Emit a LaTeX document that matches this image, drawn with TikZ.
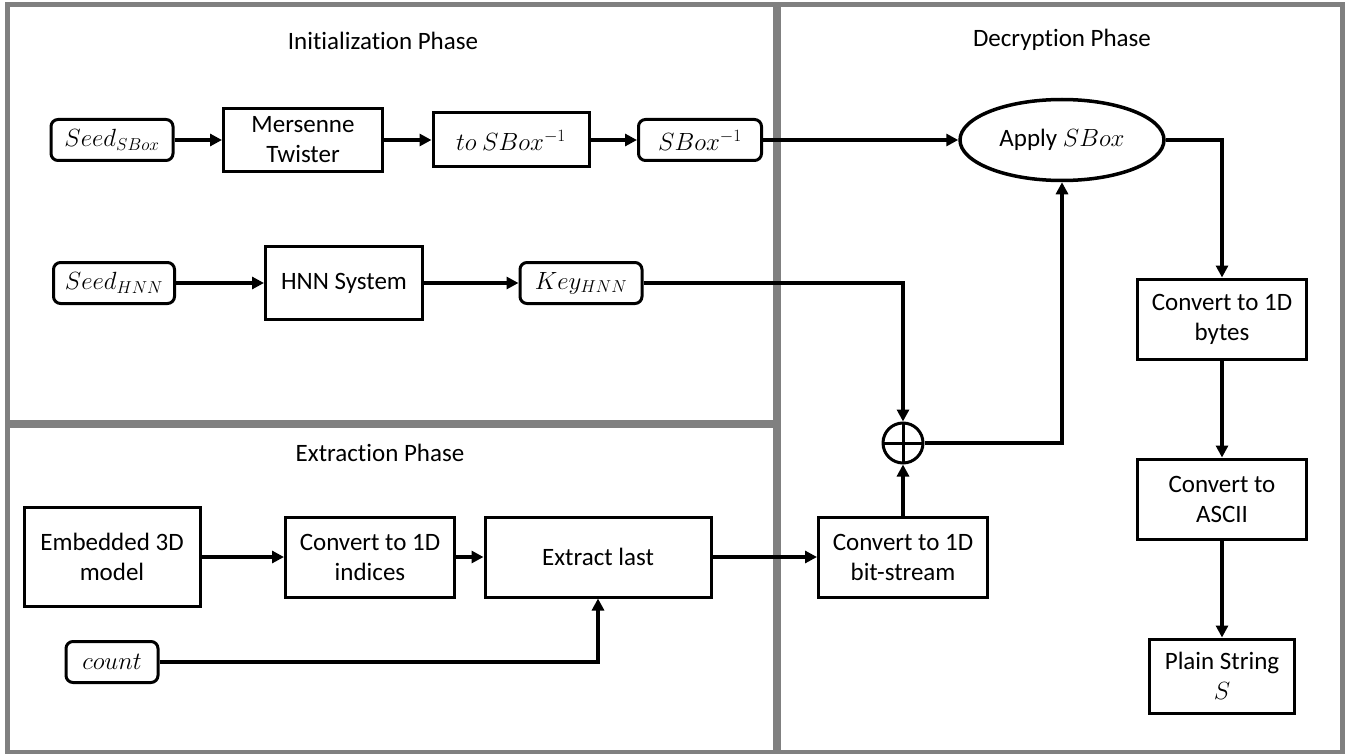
\documentclass[tikz,border=0pt]{standalone}
\usepackage{fontspec}
\setmainfont{Carlito}[Ligatures=NoCommon]
\usetikzlibrary{arrows.meta,shapes.geometric}
\definecolor{panegray}{HTML}{808080}
\tikzset{
  box/.style={draw,line width=3pt,align=center,inner sep=0pt},
  rbox/.style={box,rounded corners=7pt},
  flow/.style={line width=4pt,-{Triangle[length=12pt,width=12pt]}},
  frame/.style={draw=panegray,line width=5pt},
  divider/.style={draw=panegray,line width=8pt},
}

\begin{document}
\begin{tikzpicture}[x=1pt,y=-1pt,font=\fontsize{25}{30}\selectfont]
\useasboundingbox (0,0) rectangle (1348,754);
\draw[frame] (7,5) rectangle (1342,752);
\draw[divider] (777,5) -- (777,752);
\draw[divider] (7,424) -- (777,424);

\node (ip) at (383,41) {Initialization Phase};
\node (ep) at (380,453) {Extraction Phase};
\node (dp) at (1062,40) {Decryption Phase};

\node[rbox,minimum width=122pt,minimum height=41pt] (ssb) at (112,140) {$Seed_{SBox}$};
\node[box,minimum width=159pt,minimum height=63pt] (mt) at (303,140) {Mersenne\\Twister};
\node[box,minimum width=156pt,minimum height=54pt] (tsi) at (511,140) {$to\ SBox^{-1}$};
\node[rbox,minimum width=123pt,minimum height=41pt] (sbi) at (700,140) {$SBox^{-1}$};
\node[ellipse,draw,line width=3.5pt,minimum width=204pt,minimum height=81pt,
  inner sep=0pt] (ap) at (1062,140) {Apply $SBox$};

\node[rbox,minimum width=121pt,minimum height=41pt] (shn) at (114,283) {$Seed_{HNN}$};
\node[box,minimum width=157pt,minimum height=73pt] (hnn) at (344,283) {HNN System};
\node[rbox,minimum width=122pt,minimum height=41pt] (khn) at (581,283) {$Key_{HNN}$};

\node[box,minimum width=169pt,minimum height=80pt] (cb) at (1222,319) {Convert to 1D\\bytes};
\node[box,minimum width=169pt,minimum height=80pt] (ca) at (1222,499) {Convert to\\ASCII};
\node[box,minimum width=145pt,minimum height=74pt] (ps) at (1222,676) {Plain String\\$S$};

\node[circle,draw,line width=3pt,minimum size=40pt,inner sep=0pt,
  path picture={\draw[line width=3pt]
    (path picture bounding box.north) -- (path picture bounding box.south)
    (path picture bounding box.west) -- (path picture bounding box.east);}]
  (xr) at (903,443) {};
\node[box,minimum width=169pt,minimum height=80pt] (cbs) at (903,557) {Convert to 1D\\bit-stream};

\node[box,minimum width=176pt,minimum height=99pt] (emb) at (112,557) {Embedded 3D\\model};
\node[box,minimum width=169pt,minimum height=80pt] (cid) at (370,557) {Convert to 1D\\indices};
\node[box,minimum width=226pt,minimum height=80pt] (xl) at (598,557) {Extract last};
\node[rbox,minimum width=92pt,minimum height=41pt] (cnt) at (112,662) {$count$};

\draw[flow] (ssb) -- (mt);
\draw[flow] (mt) -- (tsi);
\draw[flow] (tsi) -- (sbi);
\draw[flow] (sbi) -- (ap);
\draw[flow] (ap) -| (cb);
\draw[flow] (cb) -- (ca);
\draw[flow] (ca) -- (ps);
\draw[flow] (shn) -- (hnn);
\draw[flow] (hnn) -- (khn);
\draw[flow] (khn) -| (xr);
\draw[flow] (xr) -| (ap);
\draw[flow] (cbs) -- (xr);
\draw[flow] (emb) -- (cid);
\draw[flow] (cid) -- (xl);
\draw[flow] (xl) -- (cbs);
\draw[flow] (cnt) -| (xl);
\end{tikzpicture}
\end{document}
